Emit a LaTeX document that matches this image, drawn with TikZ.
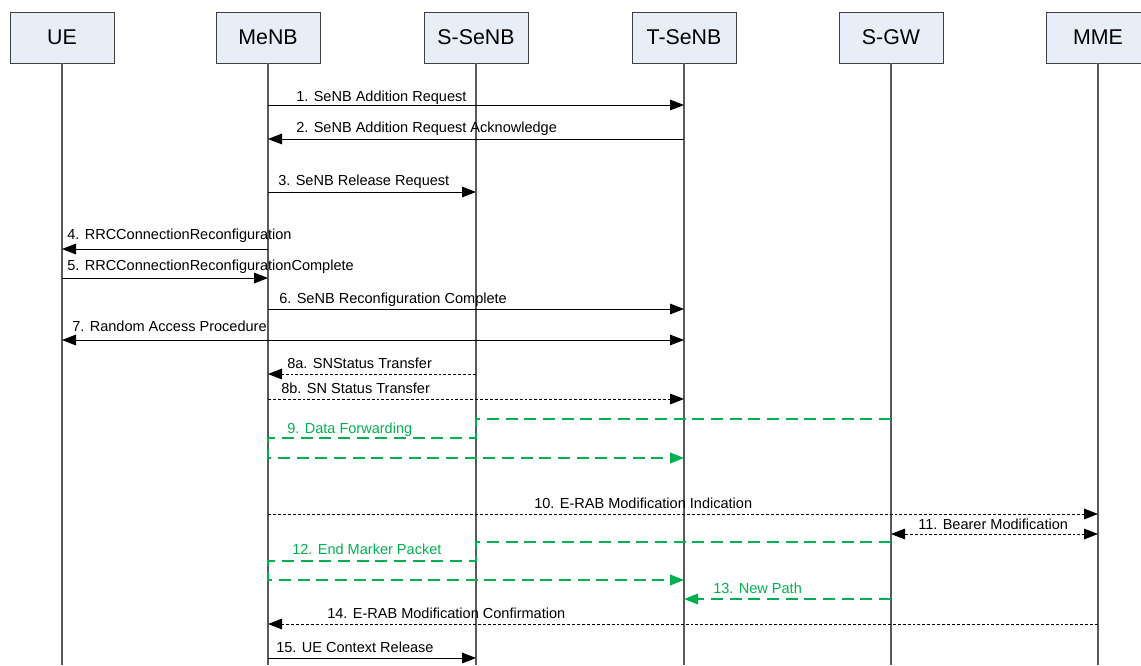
\documentclass[tikz,border=0pt]{standalone}
\usepackage{fontspec}
\setmainfont{Liberation Sans}
\usetikzlibrary{arrows.meta}

\definecolor{boxfill}{HTML}{E8EEF7}
\definecolor{fwdgreen}{HTML}{00B050}

\begin{document}
\begin{tikzpicture}[
    x=0.75pt, y=-0.75pt,
    >={Triangle[length=10.5pt, width=8pt]},
    every node/.style={font=\fontsize{10.9}{13}\selectfont},
    entity/.style={draw=black!75, fill=boxfill, minimum width=78pt, minimum height=38.25pt,
                   inner sep=0pt, font=\fontsize{16}{19}\selectfont},
    life/.style={black!65, line width=0.8pt},
    msg/.style={->, line width=0.7pt},
    dmsg/.style={->, line width=0.7pt, dash pattern=on 2.2pt off 1.5pt},
    fwd/.style={fwdgreen, line width=1.25pt, dash pattern=on 9pt off 5pt},
    lbl/.style={anchor=base west, inner sep=0pt}
  ]

  % --- 1. page size (pixels of the reference) ---
  \useasboundingbox (0,0) rectangle (1141,665);
  \def\yEnd{665}

  % --- 2. entities and lifelines ---
  \node[entity] (ue)    at (62,37.5)   {UE};
  \node[entity] (menb)  at (268,37.5)  {MeNB};
  \node[entity] (ssenb) at (476,37.5)  {S-SeNB};
  \node[entity] (tsenb) at (684,37.5)  {T-SeNB};
  \node[entity] (sgw)   at (891,37.5)  {S-GW};
  \node[entity] (mme)   at (1098,37.5) {MME};

  \foreach \n in {ue, menb, ssenb, tsenb, sgw, mme}
    \draw[life] (\n.south) -- (\n.south |- 0,\yEnd);

  % --- 3. SeNB addition / release ---
  \draw[msg] (menb |- 0,105) -- (tsenb |- 0,105);
  \node[lbl] (l1) at (296,101) {1. SeNB Addition Request};

  \draw[msg] (tsenb |- 0,139) -- (menb |- 0,139);
  \node[lbl] (l2) at (296,132) {2. SeNB Addition Request Acknowledge};

  \draw[msg] (menb |- 0,192) -- (ssenb |- 0,192);
  \node[lbl] (l3) at (278,185) {3. SeNB Release Request};

  % --- 4. RRC reconfiguration ---
  \draw[msg] (menb |- 0,249) -- (ue |- 0,249);
  \node[lbl] (l4) at (67,239) {4. RRCConnectionReconfiguration};

  \draw[msg] (ue |- 0,278) -- (menb |- 0,278);
  \node[lbl] (l5) at (67,270) {5. RRCConnectionReconfigurationComplete};

  \draw[msg] (menb |- 0,309) -- (tsenb |- 0,309);
  \node[lbl] (l6) at (279,303) {6. SeNB Reconfiguration Complete};

  \draw[msg, <->] (ue |- 0,340) -- (tsenb |- 0,340);
  \node[lbl] (l7) at (72,331) {7. Random Access Procedure};

  % --- 5. SN status transfer ---
  \draw[dmsg] (ssenb |- 0,374) -- (menb |- 0,374);
  \node[lbl] (l8a) at (287,368) {8a. SNStatus Transfer};

  \draw[dmsg] (menb |- 0,399) -- (tsenb |- 0,399);
  \node[lbl] (l8b) at (281,393) {8b. SN Status Transfer};

  % --- 6. data forwarding (green) ---
  \draw[fwd, ->] (sgw |- 0,419) -- (ssenb |- 0,419) -- (ssenb |- 0,438)
    -- (menb |- 0,438) -- (menb |- 0,458) -- (tsenb |- 0,458);
  \node[lbl, text=fwdgreen] (l9) at (287,433) {9. Data Forwarding};

  % --- 7. E-RAB modification ---
  \draw[dmsg] (menb |- 0,514) -- (mme |- 0,514);
  \node[lbl] (l10) at (534,508) {10. E-RAB Modification Indication};

  \draw[dmsg, <->] (sgw |- 0,534) -- (mme |- 0,534);
  \node[lbl] (l11) at (918,529) {11. Bearer Modification};

  % --- 8. end marker and new path (green) ---
  \draw[fwd, ->] (sgw |- 0,542) -- (ssenb |- 0,542) -- (ssenb |- 0,561)
    -- (menb |- 0,561) -- (menb |- 0,580) -- (tsenb |- 0,580);
  \node[lbl, text=fwdgreen] (l12) at (292,554) {12. End Marker Packet};

  \draw[fwd, ->] (sgw |- 0,599) -- (tsenb |- 0,599);
  \node[lbl, text=fwdgreen] (l13) at (713,593) {13. New Path};

  % --- 9. confirmation and release ---
  \draw[dmsg] (mme |- 0,624) -- (menb |- 0,624);
  \node[lbl] (l14) at (327,618) {14. E-RAB Modification Confirmation};

  \draw[msg] (menb |- 0,658) -- (ssenb |- 0,658);
  \node[lbl] (l15) at (276,652) {15. UE Context Release};

\end{tikzpicture}
\end{document}
